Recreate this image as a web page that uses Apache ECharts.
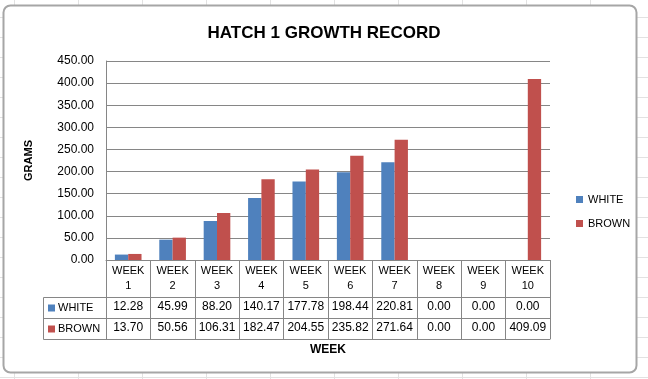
<!DOCTYPE html>
<html><head><meta charset="utf-8">
<script src="https://cdn.jsdelivr.net/npm/echarts@6/dist/echarts.min.js"></script>
<style>html,body{margin:0;padding:0;background:#fff}#c{width:648px;height:379px}</style>
</head><body><div id="c"></div>
<script>
const categories = ['WEEK 1','WEEK 2','WEEK 3','WEEK 4','WEEK 5','WEEK 6','WEEK 7','WEEK 8','WEEK 9','WEEK 10'];
const seriesNames = ['WHITE','BROWN'];
const white = [12.28, 45.99, 88.20, 140.17, 177.78, 198.44, 220.81, 0.00, 0.00, 0.00];
const brown = [13.70, 50.56, 106.31, 182.47, 204.55, 235.82, 271.64, 0.00, 0.00, 409.09];
const yMin = 0, yMax = 450, yStep = 50;
const titleText = 'HATCH 1 GROWTH RECORD';
const yTitle = 'GRAMS';
const xTitle = 'WEEK';

const colors = ['#4f81bd', '#c0504d'];
const FONT = 'Liberation Sans';
const GRAY = '#868686';
const W = 648, H = 379;
const GRID = {left: 106, right: 98, top: 61, bottom: 119};
const HEAD_H = 37, ROW_H = 21;
const axisY = H - GRID.bottom;
const tableLeft = 43;

const chart = echarts.init(document.getElementById('c'), null, {renderer: 'canvas'});

function valueAxis(offset, vals, tickLen) {
  return {
    type: 'category', data: categories, position: 'bottom', offset: offset,
    axisLine: {show: true, lineStyle: {color: GRAY, width: 1}},
    axisTick: {show: true, interval: 0, length: tickLen, lineStyle: {color: GRAY, width: 1}},
    axisLabel: {show: !!vals, interval: 0, margin: 4, fontFamily: FONT, fontSize: 12, color: '#000',
      formatter: (v, i) => vals ? vals[i].toFixed(2) : ''},
    splitLine: {show: false}
  };
}

// sheet background lines
const sheet = [];
for (let x = 14; x < W; x += 64) sheet.push({type: 'line', shape: {x1: x + 0.5, y1: 0, x2: x + 0.5, y2: H}, style: {stroke: '#e2e2e2', lineWidth: 1}, z: -20});
for (let y = 17; y < H; y += 20) sheet.push({type: 'line', shape: {x1: 0, y1: y + 0.5, x2: W, y2: y + 0.5}, style: {stroke: '#e2e2e2', lineWidth: 1}, z: -20});
sheet.push({type: 'rect', shape: {x: 3.5, y: 5.5, width: 633, height: 367, r: 7}, style: {fill: '#fff', stroke: '#a6a6a6', lineWidth: 2}, z: -10});

// data-table left column (legend keys)
const r1 = axisY + HEAD_H, r2 = r1 + ROW_H, r3 = r2 + ROW_H;
const tbl = [
  {type: 'line', shape: {x1: tableLeft + 0.5, y1: r1 + 0.5, x2: GRID.left + 0.5, y2: r1 + 0.5}, style: {stroke: GRAY, lineWidth: 1}, z: 5},
  {type: 'line', shape: {x1: tableLeft + 0.5, y1: r2 + 0.5, x2: GRID.left + 0.5, y2: r2 + 0.5}, style: {stroke: GRAY, lineWidth: 1}, z: 5},
  {type: 'line', shape: {x1: tableLeft + 0.5, y1: r3 + 0.5, x2: GRID.left + 0.5, y2: r3 + 0.5}, style: {stroke: GRAY, lineWidth: 1}, z: 5},
  {type: 'line', shape: {x1: tableLeft + 0.5, y1: r1 + 0.5, x2: tableLeft + 0.5, y2: r3 + 0.5}, style: {stroke: GRAY, lineWidth: 1}, z: 5}
];
seriesNames.forEach((n, i) => {
  const cy = r1 + ROW_H * i + ROW_H / 2 + 0.5;
  tbl.push({type: 'rect', shape: {x: tableLeft + 5, y: cy - 3.5, width: 7, height: 7}, style: {fill: colors[i]}, z: 5});
  tbl.push({type: 'text', x: tableLeft + 15, y: cy, style: {text: n, fontFamily: FONT, fontSize: 11, fill: '#000', verticalAlign: 'middle'}, z: 5});
});

chart.setOption({
  backgroundColor: '#fff',
  animation: false,
  color: colors,
  title: {text: titleText, left: 'center', top: 20,
    textStyle: {fontFamily: FONT, fontWeight: 'bold', fontSize: 17, color: '#000'}},
  legend: {orient: 'vertical', left: 571, top: 189, itemWidth: 7, itemHeight: 7, itemGap: 13, icon: 'rect',
    data: seriesNames, textStyle: {fontFamily: FONT, fontSize: 11, color: '#000'}},
  grid: {left: GRID.left, right: GRID.right, top: GRID.top, bottom: GRID.bottom, containLabel: false},
  xAxis: [
    {type: 'category', data: categories, position: 'bottom',
      axisLine: {show: true, lineStyle: {color: GRAY, width: 1}},
      axisTick: {show: true, interval: 0, length: HEAD_H, lineStyle: {color: GRAY, width: 1}},
      axisLabel: {interval: 0, margin: 3, fontFamily: FONT, fontSize: 11, lineHeight: 15, color: '#000',
        formatter: v => v.replace(' ', '\n')}},
    valueAxis(HEAD_H, white, ROW_H),
    valueAxis(HEAD_H + ROW_H, brown, ROW_H),
    Object.assign(valueAxis(HEAD_H + 2 * ROW_H, null, 0), {
      axisTick: {show: false}, name: xTitle, nameLocation: 'middle', nameGap: 5,
      nameTextStyle: {fontFamily: FONT, fontWeight: 'bold', fontSize: 12, color: '#000', verticalAlign: 'top'}})
  ],
  yAxis: {type: 'value', min: yMin, max: yMax, interval: yStep,
    name: yTitle, nameLocation: 'middle', nameGap: 72, nameRotate: 90,
    nameTextStyle: {fontFamily: FONT, fontWeight: 'bold', fontSize: 11, color: '#000'},
    axisLine: {show: true, lineStyle: {color: GRAY, width: 1}},
    axisTick: {show: false},
    splitLine: {show: true, lineStyle: {color: GRAY, width: 1}},
    axisLabel: {margin: 12, fontFamily: FONT, fontSize: 12, color: '#000', formatter: v => v.toFixed(2)}},
  series: [
    {name: seriesNames[0], type: 'bar', data: white, barGap: '0%', barCategoryGap: '40%', itemStyle: {color: colors[0]}},
    {name: seriesNames[1], type: 'bar', data: brown, barGap: '0%', barCategoryGap: '40%', itemStyle: {color: colors[1]}}
  ],
  graphic: sheet.concat(tbl)
});
</script></body></html>
